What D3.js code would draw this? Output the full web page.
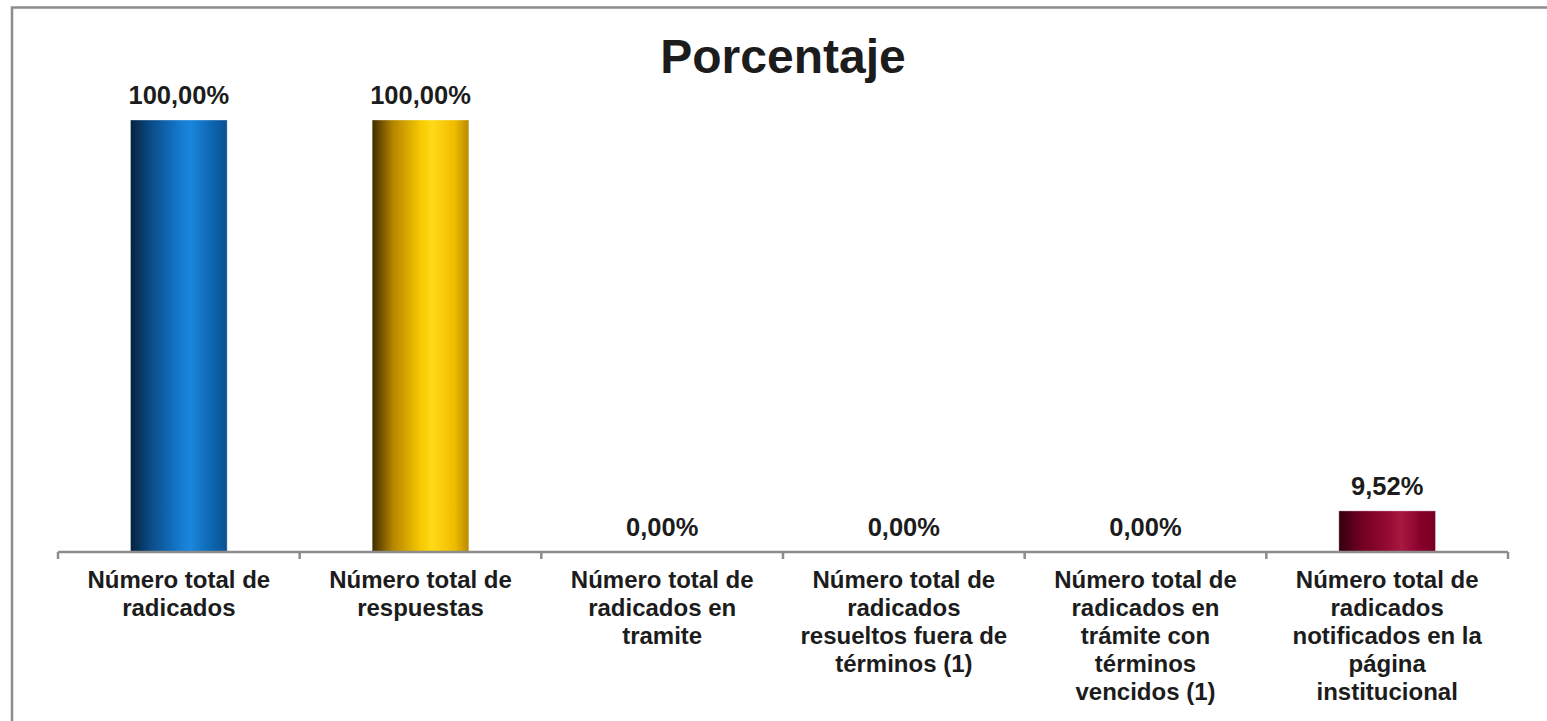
<!DOCTYPE html>
<html>
<head>
<meta charset="utf-8">
<script src="https://cdn.jsdelivr.net/npm/d3@7"></script>
<style>
  body { margin: 0; background: #fff; }
  text { font-family: "Liberation Sans", Arial, sans-serif; font-weight: bold; fill: #1c1c1c; }
</style>
</head>
<body>
<svg id="chart"></svg>
<script>
// chart data
const categories = [
    ["Número total de", "radicados"],
    ["Número total de", "respuestas"],
    ["Número total de", "radicados en", "tramite"],
    ["Número total de", "radicados", "resueltos fuera de", "términos (1)"],
    ["Número total de", "radicados en", "trámite con", "términos", "vencidos (1)"],
    ["Número total de", "radicados", "notificados en la", "página", "institucional"]
];
const values = [100, 100, 0, 0, 0, 9.52];
const valueLabels = ["100,00%", "100,00%", "0,00%", "0,00%", "0,00%", "9,52%"];
const barGradients = ["gBlue", "gGold", "gBlue", "gBlue", "gBlue", "gRed"];

const W = 1547, H = 721;
const margin = { top: 120, right: 39, bottom: 169, left: 58 };
const width = W - margin.left - margin.right,
    height = H - margin.top - margin.bottom;

const svg = d3.select("#chart").attr("width", W).attr("height", H);

// gradients for the cylinder-like bars
const defs = svg.append("defs");
const grads = {
    gBlue: [[0, "#06223d"], [0.2, "#0a4a84"], [0.5, "#1478cc"], [0.62, "#1a86de"], [0.85, "#0d64ae"], [1, "#0a5192"]],
    gGold: [[0, "#3f2c00"], [0.22, "#b78600"], [0.5, "#f6c800"], [0.62, "#ffda18"], [0.85, "#f0bc00"], [1, "#b88a00"]],
    gRed: [[0, "#33000e"], [0.22, "#6e0020"], [0.5, "#950a32"], [0.65, "#a8183f"], [0.85, "#86002a"], [1, "#780024"]]
};
Object.entries(grads).forEach(([id, stops]) => {
    const g = defs.append("linearGradient").attr("id", id)
        .attr("x1", "0%").attr("x2", "100%").attr("y1", "0%").attr("y2", "0%");
    stops.forEach(s => g.append("stop").attr("offset", s[0]).attr("stop-color", s[1]));
});

// outer frame (right and bottom edges fall outside the picture)
svg.append("rect")
    .attr("x", 12).attr("y", 7.5)
    .attr("width", W + 50).attr("height", H + 50)
    .attr("fill", "none").attr("stroke", "#8c8c8c").attr("stroke-width", 2.5);

const g = svg.append("g").attr("transform", `translate(${margin.left}, ${margin.top})`);

const x = d3.scaleBand()
    .domain(d3.range(categories.length))
    .range([0, width])
    .paddingInner(0.6)
    .paddingOuter(0.3);

const y = d3.scaleLinear()
    .domain([0, 100])
    .range([height, 0]);

g.selectAll(".bar")
    .data(values)
    .join("rect")
    .attr("class", "bar")
    .attr("x", (d, i) => x(i))
    .attr("y", d => y(d))
    .attr("width", x.bandwidth())
    .attr("height", d => height - y(d))
    .attr("fill", (d, i) => `url(#${barGradients[i]})`)
    .attr("stroke", (d, i) => d > 0 ? "rgba(255,255,255,0.35)" : "none")
    .attr("stroke-width", 1);

// x axis: line with tick marks at band edges
const step = x.step();
const edges = d3.range(categories.length + 1).map(i => i * step);
g.append("line")
    .attr("x1", 0).attr("x2", width)
    .attr("y1", height).attr("y2", height)
    .attr("stroke", "#8c8c8c").attr("stroke-width", 2.5);
g.selectAll(".tick")
    .data(edges)
    .join("line")
    .attr("class", "tick")
    .attr("x1", d => d).attr("x2", d => d)
    .attr("y1", height).attr("y2", height + 7)
    .attr("stroke", "#8c8c8c").attr("stroke-width", 2.5);

// value labels
g.selectAll(".val")
    .data(values)
    .join("text")
    .attr("class", "val")
    .attr("x", (d, i) => x(i) + x.bandwidth() / 2)
    .attr("y", d => y(d) - 16)
    .attr("text-anchor", "middle")
    .style("font-size", "25.5px")
    .text((d, i) => valueLabels[i]);

// category labels
g.selectAll(".cat")
    .data(categories)
    .join("text")
    .attr("class", "cat")
    .attr("text-anchor", "middle")
    .attr("transform", (d, i) => `translate(${x(i) + x.bandwidth() / 2}, ${height + 36})`)
    .style("font-size", "24px")
    .selectAll("tspan")
    .data(d => d)
    .join("tspan")
    .attr("x", 0)
    .attr("y", (d, j) => j * 28)
    .text(d => d);

// title
svg.append("text")
    .attr("x", margin.left + width / 2)
    .attr("y", 73)
    .attr("text-anchor", "middle")
    .style("font-size", "48px")
    .text("Porcentaje");
</script>
</body>
</html>
